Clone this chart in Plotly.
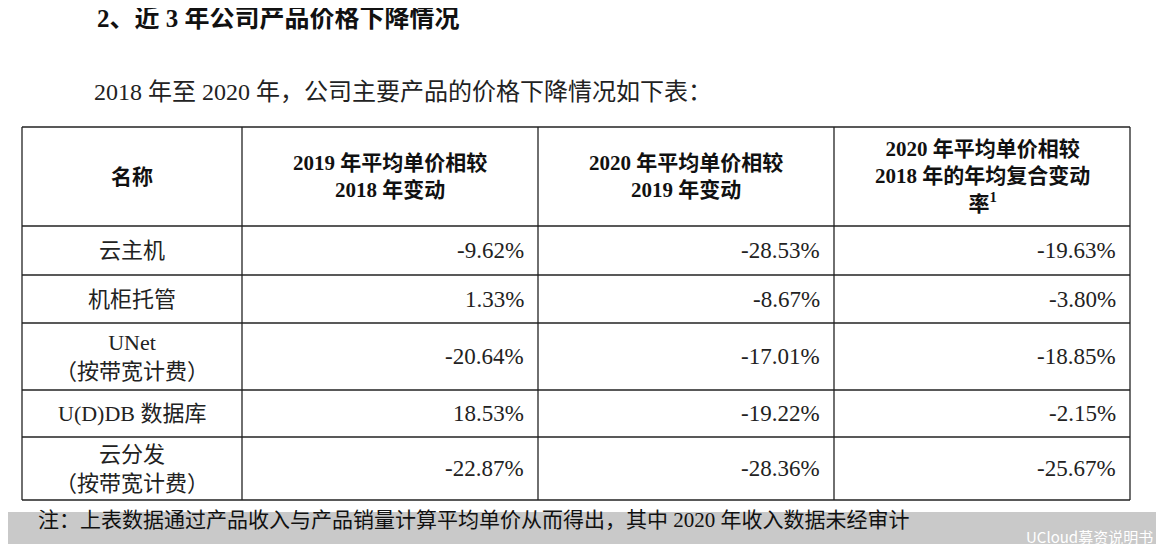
import plotly.graph_objects as go

title = "2、近 3 年公司产品价格下降情况"
subtitle = "2018 年至 2020 年，公司主要产品的价格下降情况如下表："
headers = ["名称", "2019 年平均单价相较<br>2018 年变动", "2020 年平均单价相较<br>2019 年变动",
           "2020 年平均单价相较<br>2018 年的年均复合变动<br>率<sup>1</sup>"]
names = ["云主机", "机柜托管", "UNet<br>（按带宽计费）", "U(D)DB 数据库", "云分发<br>（按带宽计费）"]
chg_2019 = ["-9.62%", "1.33%", "-20.64%", "18.53%", "-22.87%"]
chg_2020 = ["-28.53%", "-8.67%", "-17.01%", "-19.22%", "-28.36%"]
cagr = ["-19.63%", "-3.80%", "-18.85%", "-2.15%", "-25.67%"]
note = "注：上表数据通过产品收入与产品销量计算平均单价从而得出，其中 2020 年收入数据未经审计"
watermark = "UCloud募资说明书"

FONT = "Liberation Serif, Noto Sans CJK SC, serif"
OFF = 8  # page body margin
cols = [22, 242, 538, 834, 1130]
rows = [127, 226, 275, 323, 390, 437, 500]

W, H = 1164 - OFF, 552 - OFF
fig = go.Figure()
shapes = []
ann = []
shapes.append(dict(type="rect", x0=0, x1=W, y0=512, y1=H, fillcolor="#c9c9c9", line_width=0, layer="below"))
for x in cols:
    shapes.append(dict(type="line", x0=x, x1=x, y0=rows[0], y1=rows[-1], line=dict(color="#222", width=1.3)))
for y in rows:
    shapes.append(dict(type="line", x0=cols[0], x1=cols[-1], y0=y, y1=y, line=dict(color="#222", width=1.3)))

ann.append(dict(x=95, y=18, text="<b>" + title + "</b>", xanchor="left", yanchor="middle",
                font=dict(size=25, family=FONT, color="#111"), showarrow=False))
ann.append(dict(x=92, y=92, text=subtitle, xanchor="left", yanchor="middle",
                font=dict(size=24, family=FONT, color="#222"), showarrow=False))
for i, h in enumerate(headers):
    ann.append(dict(x=(cols[i] + cols[i + 1]) / 2, y=(rows[0] + rows[1]) / 2, text="<b>" + h + "</b>",
                    xanchor="center", yanchor="middle", font=dict(size=21, family=FONT, color="#111"),
                    showarrow=False))
for r in range(5):
    yc = (rows[r + 1] + rows[r + 2]) / 2
    ann.append(dict(x=(cols[0] + cols[1]) / 2, y=yc, text=names[r], xanchor="center", yanchor="middle",
                    font=dict(size=22, family=FONT, color="#222"), showarrow=False))
    for c, arr in enumerate([chg_2019, chg_2020, cagr]):
        ann.append(dict(x=cols[c + 2] - 12, y=yc, text=arr[r], xanchor="right", yanchor="middle",
                        font=dict(size=23, family=FONT, color="#222"), showarrow=False))
ann.append(dict(x=36, y=520, text=note, xanchor="left", yanchor="middle",
                font=dict(size=21, family=FONT, color="#111"), showarrow=False))
ann.append(dict(x=1155, y=536, text=watermark, xanchor="right", yanchor="middle",
                font=dict(size=15, family="Noto Sans CJK SC", color="white"), showarrow=False))

fig.update_layout(width=W, height=H, margin=dict(l=0, r=0, t=0, b=0),
                  paper_bgcolor="white", plot_bgcolor="white", shapes=shapes, annotations=ann,
                  xaxis=dict(range=[OFF, 1164], visible=False, fixedrange=True),
                  yaxis=dict(range=[552, OFF], visible=False, fixedrange=True), showlegend=False)
fig.write_html("out.html", config={"displayModeBar": False})
